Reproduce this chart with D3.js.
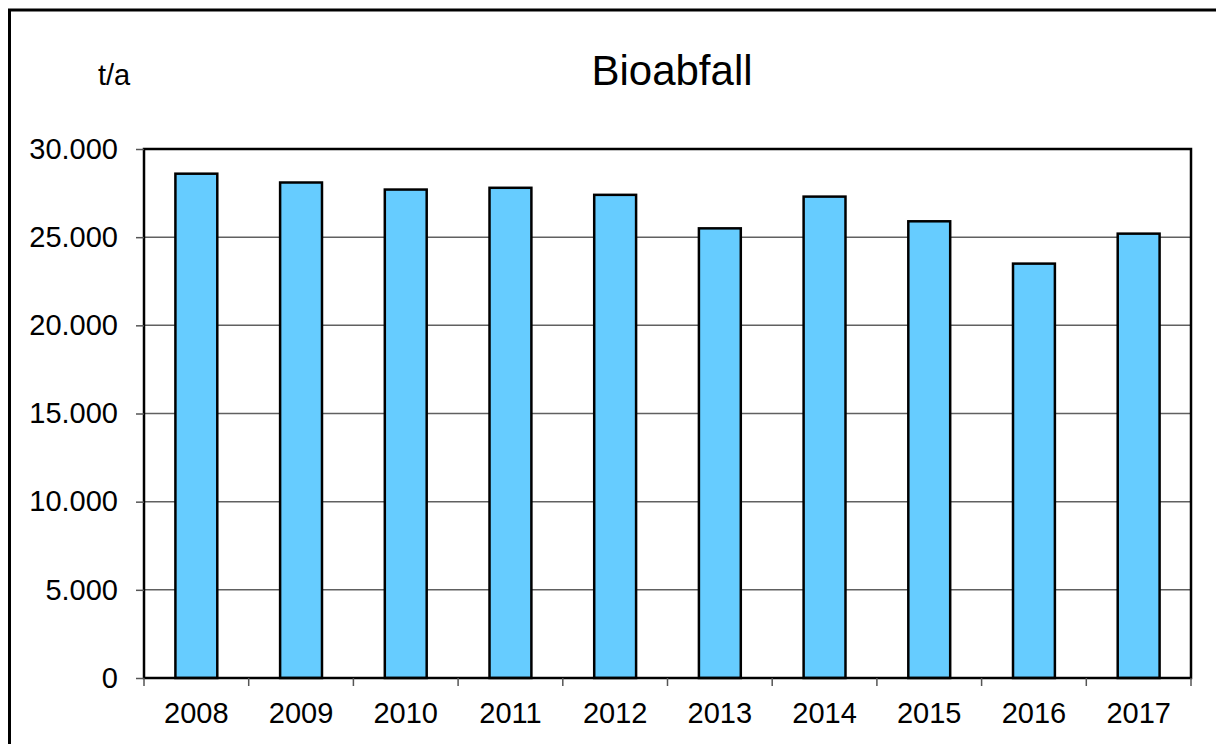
<!DOCTYPE html>
<html>
<head>
<meta charset="utf-8">
<script src="https://cdn.jsdelivr.net/npm/d3@7"></script>
<style>
  body { margin: 0; background: #fff; }
  svg { display: block; font-family: Arial, "Liberation Sans", sans-serif; }
</style>
</head>
<body>
<svg id="chart" width="1216" height="744"></svg>
<script>
// data
var years = ["2008", "2009", "2010", "2011", "2012", "2013", "2014", "2015", "2016", "2017"];
var bioabfall = [28600, 28100, 27700, 27800, 27400, 25500, 27300, 25900, 23500, 25200];
var yTicks = [0, 5000, 10000, 15000, 20000, 25000, 30000];

var margin = {top: 149, right: 25, bottom: 66, left: 144},
    width = 1216 - margin.left - margin.right,
    height = 744 - margin.top - margin.bottom;

var svg = d3.select("#chart");

// outer frame, runs off the right and bottom edge
svg.append("rect")
    .attr("x", 9.5).attr("y", 10)
    .attr("width", 1240).attr("height", 760)
    .attr("fill", "none")
    .attr("stroke", "#000")
    .attr("stroke-width", 3);

svg.append("text")
    .attr("x", 672).attr("y", 85)
    .attr("text-anchor", "middle")
    .attr("font-size", 42)
    .text("Bioabfall");

svg.append("text")
    .attr("x", 98).attr("y", 85)
    .attr("font-size", 29)
    .text("t/a");

var g = svg.append("g")
    .attr("transform", "translate(" + margin.left + "," + margin.top + ")");

var x = d3.scaleBand()
    .domain(years)
    .range([0, width])
    .paddingInner(0.6)
    .paddingOuter(0.3);

var y = d3.scaleLinear()
    .domain([0, 30000])
    .range([height, 0]);

var fmt = function(v) { return v === 0 ? "0" : d3.format(",")(v).replace(/,/g, "."); };

// gridlines
g.selectAll(".grid")
    .data(yTicks.filter(function(d) { return d > 0 && d < 30000; }))
    .enter().append("line")
    .attr("x1", 0).attr("x2", width)
    .attr("y1", function(d) { return y(d); })
    .attr("y2", function(d) { return y(d); })
    .attr("stroke", "#606060")
    .attr("stroke-width", 1.5);

// bars
g.selectAll(".bar")
    .data(bioabfall)
    .enter().append("rect")
    .attr("x", function(d, i) { return x(years[i]); })
    .attr("y", function(d) { return y(d); })
    .attr("width", x.bandwidth())
    .attr("height", function(d) { return height - y(d); })
    .attr("fill", "#66ccff")
    .attr("stroke", "#000")
    .attr("stroke-width", 2.5);

// plot frame
g.append("rect")
    .attr("x", 0).attr("y", 0)
    .attr("width", width).attr("height", height)
    .attr("fill", "none")
    .attr("stroke", "#000")
    .attr("stroke-width", 2.5);

// y axis ticks and labels
var yAxis = d3.axisLeft(y)
    .tickValues(yTicks)
    .tickSize(8)
    .tickPadding(18)
    .tickFormat(fmt);

g.append("g")
    .call(yAxis)
    .call(function(s) {
        s.select(".domain").remove();
        s.selectAll(".tick line").attr("stroke", "#555").attr("stroke-width", 1.5);
        s.selectAll("text").attr("font-size", 29).attr("font-family", "Arial, 'Liberation Sans', sans-serif").attr("fill", "#000");
    });

// x axis: ticks at category boundaries
var bounds = d3.range(years.length + 1).map(function(i) { return i * width / years.length; });
g.selectAll(".xtick")
    .data(bounds)
    .enter().append("line")
    .attr("x1", function(d) { return d; })
    .attr("x2", function(d) { return d; })
    .attr("y1", height)
    .attr("y2", height + 8)
    .attr("stroke", "#555")
    .attr("stroke-width", 1.5);

g.selectAll(".xlabel")
    .data(years)
    .enter().append("text")
    .attr("x", function(d) { return x(d) + x.bandwidth() / 2; })
    .attr("y", height + 45)
    .attr("text-anchor", "middle")
    .attr("font-size", 29)
    .text(function(d) { return d; });
</script>
</body>
</html>
